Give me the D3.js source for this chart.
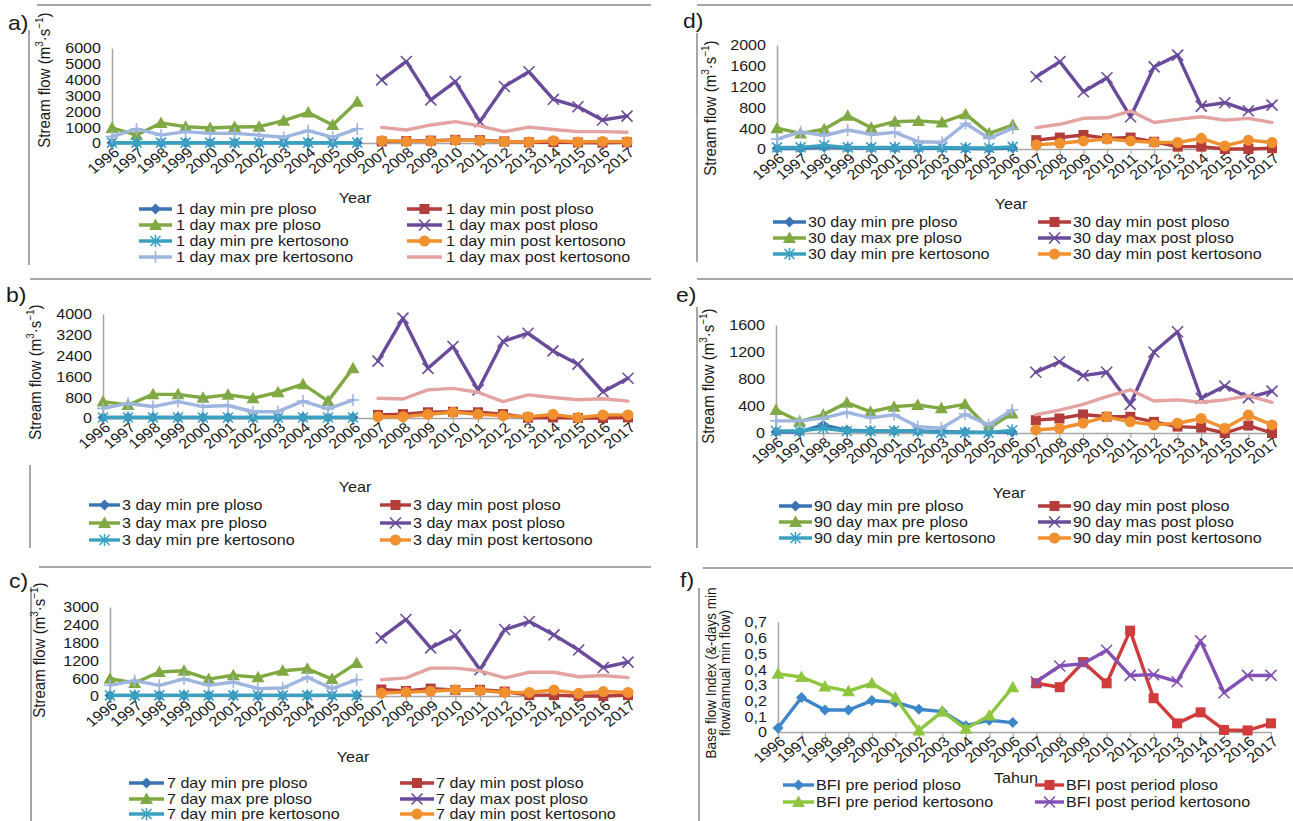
<!DOCTYPE html>
<html><head><meta charset="utf-8">
<script src="https://cdn.jsdelivr.net/npm/d3@7"></script>
<style>
body{margin:0;background:#fff}
svg{display:block}
text{font-family:"Liberation Sans",Arial,sans-serif;fill:#1a1a1a}
</style>
</head><body>
<svg id="c" width="1293" height="821"></svg>
<script>
// ---------------- DATA ----------------
const preYears  = ["1996","1997","1998","1999","2000","2001","2002","2003","2004","2005","2006"];
const postYears = ["2007","2008","2009","2010","2011","2012","2013","2014","2015","2016","2017"];

// a) 1 day
const a_minPrePloso  = [20,20,20,20,20,20,20,20,20,20,20];
const a_minPostPloso = [100,120,150,200,180,100,40,60,30,20,40];
const a_maxPrePloso  = [950,500,1260,1030,950,1010,1030,1410,1920,1140,2610];
const a_maxPostPloso = [3990,5150,2720,3880,1350,3570,4500,2760,2290,1450,1700];
const a_minPreKert   = [20,20,20,20,20,20,20,20,20,20,20];
const a_minPostKert  = [150,100,120,180,150,90,60,150,60,100,80];
const a_maxPreKert   = [400,890,500,720,610,610,500,360,780,360,890];
const a_maxPostKert  = [990,820,1140,1350,1080,720,1000,850,720,720,680];
const a_ticks = [0,1000,2000,3000,4000,5000,6000];
const a_tickLabels = ["0","1000","2000","3000","4000","5000","6000"];
const a_legend = ["1 day min pre ploso","1 day min post ploso","1 day max pre ploso","1 day max post ploso",
                  "1 day min pre kertosono","1 day min post kertosono","1 day max pre kertosono","1 day max post kertosono"];

// b) 3 day
const b_minPrePloso  = [20,20,20,20,20,20,20,20,20,20,20];
const b_minPostPloso = [120,150,220,240,220,150,10,20,0,0,20];
const b_maxPrePloso  = [630,500,910,910,780,890,760,990,1300,650,1910];
const b_maxPostPloso = [2190,3840,1910,2750,1080,2950,3260,2580,2070,1010,1530];
const b_minPreKert   = [20,20,20,20,20,20,20,20,20,20,20];
const b_minPostKert  = [50,50,140,220,140,90,50,140,15,120,120];
const b_maxPreKert   = [370,560,440,630,440,480,240,250,650,350,690];
const b_maxPostKert  = [760,730,1080,1140,990,630,890,790,700,740,650];
const b_ticks = [0,800,1600,2400,3200,4000];
const b_tickLabels = ["0","800","1600","2400","3200","4000"];
const b_legend = ["3 day min pre ploso","3 day min post ploso","3 day max pre ploso","3 day max post ploso",
                  "3 day min pre kertosono","3 day min post kertosono"];

// c) 7 day
const c_minPrePloso  = [20,20,20,20,20,20,20,20,20,20,20];
const c_minPostPloso = [220,170,250,200,210,150,30,30,0,0,30];
const c_maxPrePloso  = [580,440,810,850,570,700,630,850,920,570,1110];
const c_maxPostPloso = [1960,2580,1620,2050,890,2240,2510,2060,1550,960,1140];
const c_minPreKert   = [20,20,20,20,20,20,20,20,20,20,20];
const c_minPostKert  = [100,130,160,210,180,120,120,200,90,150,120];
const c_maxPreKert   = [360,520,360,580,360,470,250,270,630,250,550];
const c_maxPostKert  = [550,610,940,940,850,610,800,800,650,690,620];
const c_ticks = [0,600,1200,1800,2400,3000];
const c_tickLabels = ["0","600","1200","1800","2400","3000"];
const c_legend = ["7 day min pre ploso","7 day min post ploso","7 day max pre ploso","7 day max post ploso",
                  "7 day min pre kertosono","7 day min post kertosono"];

// d) 30 day
const d_minPrePloso  = [10,10,40,20,20,15,15,15,10,5,20];
const d_minPostPloso = [170,220,270,205,220,140,45,45,0,0,15];
const d_maxPrePloso  = [400,300,380,640,410,525,540,510,670,300,460];
const d_maxPostPloso = [1390,1680,1100,1370,620,1580,1805,825,890,735,845];
const d_minPreKert   = [30,30,70,30,30,30,30,30,20,20,40];
const d_minPostKert  = [80,110,155,190,155,130,125,205,60,170,125];
const d_maxPreKert   = [190,330,260,365,280,320,140,130,490,205,400];
const d_maxPostKert  = [410,475,590,600,730,510,570,620,555,590,510];
const d_ticks = [0,400,800,1200,1600,2000];
const d_tickLabels = ["0","400","800","1200","1600","2000"];
const d_legend = ["30 day min pre ploso","30 day min post ploso","30 day max pre ploso","30 day max post ploso",
                  "30 day min pre kertosono","30 day min post kertosono"];

// e) 90 day
const e_minPrePloso  = [15,15,120,40,30,30,30,20,15,10,15];
const e_minPostPloso = [190,215,275,240,240,165,95,80,0,110,0];
const e_maxPrePloso  = [340,170,270,450,315,390,415,365,425,70,290];
const e_maxPostPloso = [900,1055,850,900,425,1200,1500,515,695,525,620];
const e_minPreKert   = [30,30,70,30,30,30,30,5,5,5,40];
const e_minPostKert  = [45,70,145,240,165,120,145,215,70,265,120];
const e_maxPreKert   = [180,180,220,305,225,270,95,70,280,120,340];
const e_maxPostKert  = [270,340,425,540,640,475,490,455,490,550,455];
const e_ticks = [0,400,800,1200,1600];
const e_tickLabels = ["0","400","800","1200","1600"];
const e_legend = ["90 day min pre ploso","90 day min post ploso","90 day max pre ploso","90 day mas post ploso",
                  "90 day min pre kertosono","90 day min post kertosono"];

// f) BFI
const f_prePloso  = [0.025,0.22,0.14,0.14,0.20,0.19,0.145,0.13,0.04,0.075,0.06];
const f_postPloso = [0.31,0.285,0.445,0.31,0.645,0.215,0.055,0.125,0.013,0.01,0.055];
const f_preKert   = [0.37,0.35,0.29,0.26,0.31,0.22,0.01,0.13,0.02,0.105,0.285];
const f_postKert  = [0.32,0.42,0.435,0.52,0.36,0.365,0.32,0.58,0.25,0.36,0.36];
const f_ticks = [0,0.1,0.2,0.3,0.4,0.5,0.6,0.7];
const f_tickLabels = ["0","0,1","0,2","0,3","0,4","0,5","0,6","0,7"];
const f_legend = ["BFI pre period ploso","BFI post period ploso","BFI pre period kertosono","BFI post period kertosono"];

// ---------------- STYLE ----------------
const allYears = preYears.concat(postYears);
const SX = 1.15;
const STY = {
  minPrePloso:  {color:"#3b74b5", mk:"diamond"},
  minPostPloso: {color:"#b23d3a", mk:"square"},
  maxPrePloso:  {color:"#80a943", mk:"triangle"},
  maxPostPloso: {color:"#6a4b9b", mk:"x"},
  minPreKert:   {color:"#3aa1c1", mk:"star"},
  minPostKert:  {color:"#f0902f", mk:"circle"},
  maxPreKert:   {color:"#9db5df", mk:"plus"},
  maxPostKert:  {color:"#e3a3a1", mk:null},
  bfiPrePloso:  {color:"#3d86c9", mk:"diamond"},
  bfiPostPloso: {color:"#d03b3b", mk:"square"},
  bfiPreKert:   {color:"#8ec640", mk:"triangle"},
  bfiPostKert:  {color:"#8350b5", mk:"x"}
};

const svg = d3.select("#c");

function addText(g, x, y, s, o = {}) {
  const t = g.append("text")
    .attr("transform", `translate(${x},${y}) scale(${o.sx ?? SX},1)` + (o.rot ? ` rotate(${o.rot})` : ""))
    .attr("text-anchor", o.anchor || "start")
    .style("font-size", (o.size || 14) + "px");
  t.text(s);
  return t;
}

function marker(g, type, cx, cy, color) {
  if (!type) return;
  const m = g.append("g").attr("transform", `translate(${cx},${cy})`);
  if (type === "diamond") m.append("path").attr("d","M0,-5.5L5.5,0L0,5.5L-5.5,0Z").attr("fill",color);
  else if (type === "square") m.append("rect").attr("x",-5).attr("y",-5).attr("width",10).attr("height",10).attr("fill",color);
  else if (type === "triangle") m.append("path").attr("d","M0,-6.5L6.5,5L-6.5,5Z").attr("fill",color);
  else if (type === "circle") m.append("circle").attr("r",5.5).attr("fill",color);
  else if (type === "x") m.append("path").attr("d","M-5.5,-5.5L5.5,5.5M-5.5,5.5L5.5,-5.5").attr("stroke",color).attr("stroke-width",1.6).attr("fill","none");
  else if (type === "star") m.append("path").attr("d","M-5,-5L5,5M-5,5L5,-5M0,-6L0,6").attr("stroke",color).attr("stroke-width",1.6).attr("fill","none");
  else if (type === "plus") m.append("path").attr("d","M-6,0L6,0M0,-6L0,6").attr("stroke",color).attr("stroke-width",1.6).attr("fill","none");
}

function drawPanel(p) {
  const g = svg.append("g");
  // frame lines
  g.append("line").attr("x1",p.top[0]).attr("x2",p.top[1]).attr("y1",p.top[2]).attr("y2",p.top[2])
    .attr("stroke","#8a8a8a").attr("stroke-width",1.5);
  g.append("line").attr("x1",p.left[0]).attr("x2",p.left[0]).attr("y1",p.left[1]).attr("y2",p.left[2])
    .attr("stroke","#8a8a8a").attr("stroke-width",1.5);
  addText(g, p.lab[0], p.lab[1], p.label, {size:20});

  const x = d3.scalePoint().domain(allYears).range([p.x0, p.x1]);
  const y = d3.scaleLinear().domain([0, p.max]).range([p.yB, p.yT]);

  // y axis
  const ya = g.append("g").attr("transform", `translate(${p.x0},0)`)
    .call(d3.axisLeft(y).tickValues(p.ticks).tickSize(0).tickSizeOuter(0).tickPadding(0)
      .tickFormat((d, i) => p.tickLabels[i]));
  ya.attr("font-family", null).attr("font-size", null);
  ya.select(".domain").attr("stroke", "#a6a6a6").attr("stroke-width", 1.5);
  ya.selectAll(".tick text").attr("x", null).attr("dy", "0.35em").attr("fill", "#1a1a1a")
    .attr("transform", `translate(-11,0) scale(${SX},1)`).style("font-size", "14px");

  // x axis
  const xa = g.append("g").attr("transform", `translate(0,${p.yB})`)
    .call(d3.axisBottom(x).tickSize(5).tickSizeOuter(0));
  xa.attr("font-family", null).attr("font-size", null);
  xa.select(".domain").attr("stroke", "#a6a6a6").attr("stroke-width", 1.5);
  xa.selectAll(".tick line").attr("stroke", "#a6a6a6").attr("stroke-width", 1.2);
  xa.selectAll(".tick text").attr("y", null).attr("dy", null).attr("fill", "#1a1a1a")
    .attr("transform", `translate(8,11) scale(${SX},1) rotate(-41)`)
    .style("text-anchor", "end").style("font-size", "14px");

  // series
  p.series.forEach(s => {
    const st = STY[s.key];
    const pts = s.years.map((yr, i) => ({yr, v: s.values[i]}));
    g.append("path").datum(pts)
      .attr("d", d3.line().x(d => x(d.yr)).y(d => y(d.v)))
      .attr("fill", "none").attr("stroke", st.color).attr("stroke-width", 3.4)
      .attr("stroke-linejoin", "round").attr("stroke-linecap", "round");
    pts.forEach(d => marker(g, st.mk, x(d.yr), y(d.v), st.color));
  });

  // x title
  addText(g, p.xt[0], p.xt[1], p.xtitle, {anchor:"middle", size:14});

  // y title
  if (p.ytitle === "flow") {
    const t = g.append("text")
      .attr("transform", `translate(${p.yt[0]},${p.yt[1]}) scale(${SX},1) rotate(-90)`)
      .attr("text-anchor", "middle").style("font-size", "15px");
    t.append("tspan").text("Stream flow (m");
    t.append("tspan").attr("dy", -6).style("font-size", "10px").text("3");
    t.append("tspan").attr("dy", 6).text("\u00B7s");
    t.append("tspan").attr("dy", -6).style("font-size", "10px").text("\u22121");
    t.append("tspan").attr("dy", 6).text(")");
  } else {
    p.ytitle.forEach((ln, i) => {
      addText(g, p.yt[0] + i * 14, p.yt[1], ln, {anchor:"middle", size:13.5, rot:-90});
    });
  }

  // legend
  p.legendLabels.forEach((lab, i) => {
    const col = p.leg.cols[i % 2];
    const row = p.leg.rows[Math.floor(i / 2)];
    const st = STY[p.series[i].key];
    g.append("line").attr("x1", col[0]).attr("x2", col[1]).attr("y1", row).attr("y2", row)
      .attr("stroke", st.color).attr("stroke-width", 3.4);
    marker(g, st.mk, (col[0] + col[1]) / 2, row, st.color);
    addText(g, col[2], row + 5, lab, {size:14});
  });
}

function flowSeries(pre1, post1, pre2, post2, pre3, post3, pre4, post4) {
  return [
    {key:"minPrePloso", years:preYears, values:pre1},
    {key:"minPostPloso", years:postYears, values:post1},
    {key:"maxPrePloso", years:preYears, values:pre2},
    {key:"maxPostPloso", years:postYears, values:post2},
    {key:"minPreKert", years:preYears, values:pre3},
    {key:"minPostKert", years:postYears, values:post3},
    {key:"maxPreKert", years:preYears, values:pre4},
    {key:"maxPostKert", years:postYears, values:post4}
  ];
}

const panels = [
  {label:"a)", lab:[8,30], top:[37,651,5], left:[29,30,265],
   x0:112, x1:627, yB:143, yT:48, max:6000, ticks:a_ticks, tickLabels:a_tickLabels,
   ytitle:"flow", yt:[50,80], xtitle:"Year", xt:[355,203],
   leg:{cols:[[139,172,176],[407,442,446]], rows:[209,225,241,257]}, legendLabels:a_legend,
   series:flowSeries(a_minPrePloso,a_minPostPloso,a_maxPrePloso,a_maxPostPloso,a_minPreKert,a_minPostKert,a_maxPreKert,a_maxPostKert)},
  {label:"b)", lab:[6,302], top:[30,651,279], left:[30,465,548],
   x0:103, x1:628, yB:418, yT:314, max:4000, ticks:b_ticks, tickLabels:b_tickLabels,
   ytitle:"flow", yt:[41,372], xtitle:"Year", xt:[355,492],
   leg:{cols:[[89,120,122],[380,411,413]], rows:[505,523,540]}, legendLabels:b_legend,
   series:flowSeries(b_minPrePloso,b_minPostPloso,b_maxPrePloso,b_maxPostPloso,b_minPreKert,b_minPostKert,b_maxPreKert,b_maxPostKert)},
  {label:"c)", lab:[9,588], top:[39,651,567], left:[31,587,821],
   x0:110, x1:628, yB:696, yT:607, max:3000, ticks:c_ticks, tickLabels:c_tickLabels,
   ytitle:"flow", yt:[45,650], xtitle:"Year", xt:[353,762],
   leg:{cols:[[129,164,167],[400,434,436]], rows:[783,799,814]}, legendLabels:c_legend,
   series:flowSeries(c_minPrePloso,c_minPostPloso,c_maxPrePloso,c_maxPostPloso,c_minPreKert,c_minPostKert,c_maxPreKert,c_maxPostKert)},
  {label:"d)", lab:[683,28], top:[697,1293,5], left:[697,33,262],
   x0:777, x1:1272, yB:149, yT:45, max:2000, ticks:d_ticks, tickLabels:d_tickLabels,
   ytitle:"flow", yt:[716,108], xtitle:"Year", xt:[1011,209],
   leg:{cols:[[773,806,808],[1038,1071,1073]], rows:[222,238,254]}, legendLabels:d_legend,
   series:flowSeries(d_minPrePloso,d_minPostPloso,d_maxPrePloso,d_maxPostPloso,d_minPreKert,d_minPostKert,d_maxPreKert,d_maxPostKert)},
  {label:"e)", lab:[676,302], top:[697,1293,279], left:[697,307,548],
   x0:776, x1:1272, yB:433, yT:325, max:1600, ticks:e_ticks, tickLabels:e_tickLabels,
   ytitle:"flow", yt:[714,376], xtitle:"Year", xt:[1009,498],
   leg:{cols:[[779,812,814],[1038,1071,1073]], rows:[506,522,538]}, legendLabels:e_legend,
   series:flowSeries(e_minPrePloso,e_minPostPloso,e_maxPrePloso,e_maxPostPloso,e_minPreKert,e_minPostKert,e_maxPreKert,e_maxPostKert)},
  {label:"f)", lab:[680,587], top:[703,1293,568], left:[699,588,821],
   x0:778, x1:1271, yB:732, yT:622, max:0.7, ticks:f_ticks, tickLabels:f_tickLabels,
   ytitle:["Base flow Index (&-days min","flow/annual min flow)"], yt:[716,673], xtitle:"Tahun", xt:[1016,783],
   leg:{cols:[[783,814,816],[1035,1064,1066]], rows:[785,802]}, legendLabels:f_legend,
   series:[
     {key:"bfiPrePloso", years:preYears, values:f_prePloso},
     {key:"bfiPostPloso", years:postYears, values:f_postPloso},
     {key:"bfiPreKert", years:preYears, values:f_preKert},
     {key:"bfiPostKert", years:postYears, values:f_postKert}
   ]}
];

panels.forEach(drawPanel);
</script>
</body></html>
